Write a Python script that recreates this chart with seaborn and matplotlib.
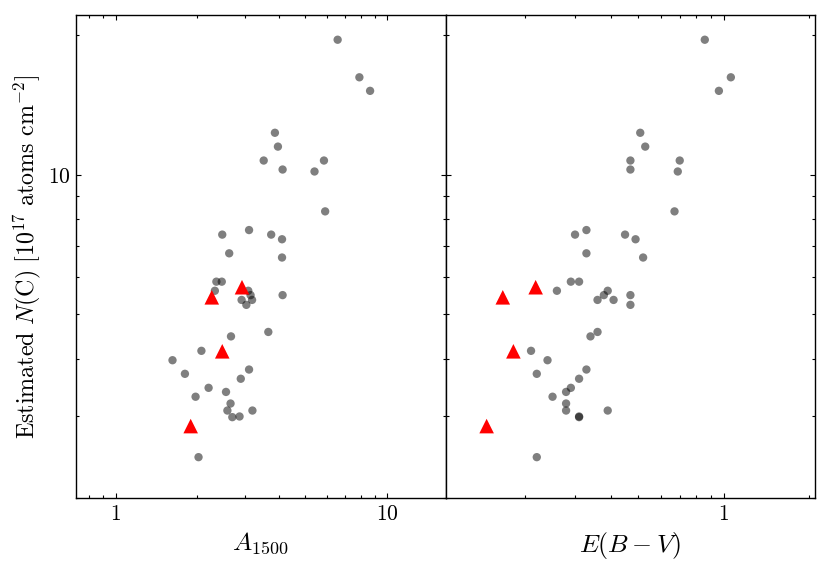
import numpy as np
import pandas as pd
import matplotlib
matplotlib.use('Agg')
import matplotlib.pyplot as plt
import matplotlib.ticker as mticker
import seaborn as sns

# N(C) estimates (10^17 atoms cm^-2) with A_1500 and E(B-V) of each sightline
n_c = [19.58, 16.24, 15.18, 12.32, 11.50, 10.73, 10.73, 10.26, 10.16, 8.33,
       7.59, 7.42, 7.42, 7.25, 6.76, 6.62, 5.87, 5.87, 5.61, 5.61,
       5.49, 5.49, 5.36, 5.36, 5.23, 4.57, 4.47, 4.16, 3.97, 3.79,
       3.71, 3.62, 3.46, 3.39, 3.31, 3.20, 3.09, 3.09, 2.99, 3.00, 2.45]
a1500 = [6.57, 7.90, 8.65, 3.86, 3.96, 3.51, 5.85, 4.12, 5.40, 5.91,
         3.10, 2.47, 3.74, 4.10, 2.62, 4.10, 2.35, 2.46, 2.32, 3.08,
         3.14, 4.12, 2.91, 3.18, 3.03, 3.65, 2.66, 2.07, 1.62, 3.10,
         1.80, 2.89, 2.20, 2.55, 1.97, 2.65, 2.58, 3.19, 2.69, 2.86, 2.02]
ebv = [0.859, 1.061, 0.963, 0.509, 0.530, 0.470, 0.701, 0.470, 0.690, 0.672,
       0.329, 0.300, 0.450, 0.490, 0.329, 0.521, 0.290, 0.310, 0.259, 0.391,
       0.379, 0.470, 0.360, 0.410, 0.470, 0.360, 0.340, 0.210, 0.240, 0.329,
       0.220, 0.310, 0.290, 0.279, 0.250, 0.279, 0.279, 0.391, 0.310, 0.310, 0.220]

# highlighted objects (red triangles)
n_c_hl = [2.86, 5.43, 4.15, 5.71]
a1500_hl = [1.89, 2.26, 2.47, 2.92]
ebv_hl = [0.1465, 0.167, 0.182, 0.218]

df = pd.DataFrame({'NC': n_c, 'A1500': a1500, 'EBV': ebv})
df_hl = pd.DataFrame({'NC': n_c_hl, 'A1500': a1500_hl, 'EBV': ebv_hl})

sns.set_style('ticks', {'axes.edgecolor': 'black', 'xtick.color': 'black',
                        'ytick.color': 'black', 'text.color': 'black',
                        'axes.labelcolor': 'black'})
plt.rcParams['mathtext.fontset'] = 'cm'
plt.rcParams['font.family'] = ['DejaVu Serif']

fig, axes = plt.subplots(1, 2, figsize=(8.3, 5.71), dpi=100, sharey=True)
fig.subplots_adjust(left=0.0916, right=0.982, top=0.973, bottom=0.128, wspace=0)

for ax, col in zip(axes, ['A1500', 'EBV']):
    sns.scatterplot(data=df, x=col, y='NC', ax=ax, color='k', alpha=0.5,
                    s=36, edgecolor='none', linewidth=0)
    sns.scatterplot(data=df_hl, x=col, y='NC', ax=ax, color='red', marker='^',
                    s=110, edgecolor='none', linewidth=0)
    ax.set_xscale('log')
    ax.set_yscale('log')
    ax.tick_params(which='both', direction='in', top=True, right=True,
                   labelsize=15.5, width=0.8)
    for sp in ax.spines.values():
        sp.set_linewidth(1.0)
    ax.xaxis.set_major_formatter(mticker.FuncFormatter(lambda v, p: f'${v:g}$'))
    ax.xaxis.set_minor_formatter(mticker.NullFormatter())

axes[0].set_ylim(2.0, 22.1)
axes[0].yaxis.set_major_formatter(mticker.FuncFormatter(lambda v, p: f'${v:g}$'))
axes[0].yaxis.set_minor_formatter(mticker.NullFormatter())
axes[1].tick_params(axis='y', which='both', labelleft=False)

axes[0].set_xlim(0.715, 16.4)
axes[1].set_xlim(0.105, 2.1)

axes[0].set_xlabel(r'$A_{1500}$', fontsize=18.5)
axes[1].set_xlabel(r'$E(B-V)$', fontsize=18.5)
axes[0].set_ylabel(r'$\mathrm{Estimated}\ N\mathrm{(C)}\ [10^{17}\ \mathrm{atoms\ cm}^{-2}]$',
                   fontsize=17.3)
axes[1].set_ylabel('')

fig.savefig('out.png', dpi=100)
